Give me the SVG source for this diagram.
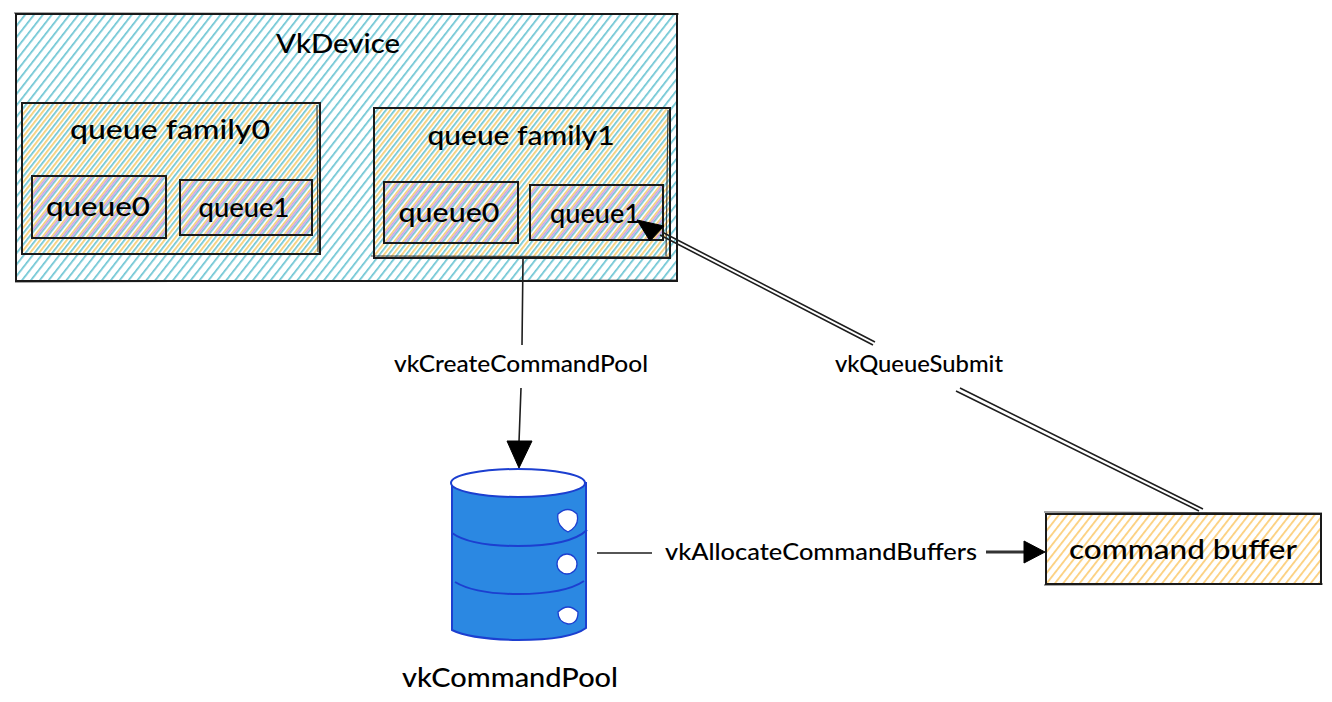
<svg xmlns="http://www.w3.org/2000/svg" width="1332" height="702" viewBox="0 0 1332 702">
<style>
text{font-family:"Lato","Open Sans",sans-serif;fill:#000;text-anchor:middle;dominant-baseline:central;font-weight:500}
.box{fill:none;stroke:#1a1a1a;stroke-width:2}
.box2{fill:none;stroke:#1a1a1a;stroke-width:1.2;opacity:.8}
.conn{fill:none;stroke:#1e1e1e;stroke-width:1.6}
.head{fill:#000;stroke:#000}
.db{stroke:#1c3fd0;stroke-width:2;fill:none}
.hole{fill:#fff;stroke:#1c3fd0;stroke-width:1.3}
</style>
<defs>
<pattern id="teal" width="7" height="7" patternUnits="userSpaceOnUse" patternTransform="rotate(38)"><rect width="7" height="7" fill="#fff"/><rect width="1.7" height="7" fill="#6cc5d3"/></pattern>
<pattern id="amber" width="7" height="7" patternUnits="userSpaceOnUse" patternTransform="rotate(38) translate(3.5 0)"><rect width="1.8" height="7" fill="#f5cf7a"/></pattern>
<pattern id="purple" width="7" height="7" patternUnits="userSpaceOnUse" patternTransform="rotate(38) translate(5.3 0)"><rect width="1.7" height="7" fill="#c9a3e6"/></pattern>
<pattern id="orange" width="6.5" height="6.5" patternUnits="userSpaceOnUse" patternTransform="rotate(38)"><rect width="6.5" height="6.5" fill="#fff"/><rect width="1.9" height="6.5" fill="#fcd284"/></pattern>
</defs>
<g id="vkdevice">
<rect x="16" y="14" width="661" height="267" fill="url(#teal)"/>
<rect class="box" x="16" y="14" width="661" height="267"/>
<path class="box2" d="M14 13L679 14M15 282L676 280"/>
<text x="338" y="42" font-size="27" textLength="124" lengthAdjust="spacingAndGlyphs">VkDevice</text>
</g>
<g id="queue-family0">
<rect x="22" y="103" width="298" height="151" fill="url(#amber)"/>
<rect class="box" x="22" y="103" width="298" height="151"/>
<path class="box2" d="M317 105L318 252"/>
<text x="170" y="129" font-size="26" textLength="200" lengthAdjust="spacingAndGlyphs">queue family0</text>
</g>
<g id="family0-queue0">
<rect x="32" y="176" width="134" height="62" fill="url(#purple)"/>
<rect class="box" x="32" y="176" width="134" height="62"/>
<text x="98" y="206" font-size="26" textLength="104" lengthAdjust="spacingAndGlyphs">queue0</text>
</g>
<g id="family0-queue1">
<rect x="180" y="180" width="132" height="55" fill="url(#purple)"/>
<rect class="box" x="180" y="180" width="132" height="55"/>
<text x="244" y="207" font-size="26" textLength="91" lengthAdjust="spacingAndGlyphs">queue1</text>
</g>
<g id="queue-family1">
<rect x="374" y="108" width="296" height="150" fill="url(#amber)"/>
<rect class="box" x="374" y="108" width="296" height="150"/>
<path class="box2" d="M371 256L670 257M668 110L666 256"/>
<text x="521" y="135" font-size="26" textLength="187" lengthAdjust="spacingAndGlyphs">queue family1</text>
</g>
<g id="family1-queue0">
<rect x="384" y="182" width="134" height="61" fill="url(#purple)"/>
<rect class="box" x="384" y="182" width="134" height="61"/>
<text x="449" y="212" font-size="26" textLength="101" lengthAdjust="spacingAndGlyphs">queue0</text>
</g>
<g id="family1-queue1">
<rect x="530" y="185" width="133" height="55" fill="url(#purple)"/>
<rect class="box" x="530" y="185" width="133" height="55"/>
<text x="595" y="213" font-size="26" textLength="90" lengthAdjust="spacingAndGlyphs">queue1</text>
</g>
<g id="vkcommandpool">
<path d="M452 482L452 630Q470 639 518 640Q570 640 586 628L586 482Z" fill="#2b88e2"/>
<path class="db" d="M452 482L452 630Q470 639 518 640Q570 640 586 628L586 482"/>
<ellipse cx="518" cy="483" rx="67" ry="14" fill="#fff" stroke="#1c3fd0" stroke-width="2"/>
<path class="db" d="M452 533Q470 546 518 546Q570 546 587 530M455 582Q475 594 518 594Q565 594 584 581"/>
<path class="hole" d="M558 514Q568 505 577 514Q580 526 568 532Q556 526 558 514Z"/>
<circle class="hole" cx="567" cy="564" r="10"/>
<path class="hole" d="M558 612Q568 602 578 612Q578 624 568 624Q558 622 558 612Z"/>
<text x="510" y="676" font-size="27" textLength="216" lengthAdjust="spacingAndGlyphs">vkCommandPool</text>
</g>
<g id="commandbuffer">
<rect x="1046" y="514" width="275" height="70" fill="url(#orange)"/>
<rect class="box" x="1046" y="514" width="275" height="70"/>
<path class="box2" d="M1044 512L1322 513M1044 585L1323 584"/>
<text x="1183" y="548" font-size="27" textLength="228" lengthAdjust="spacingAndGlyphs">command buffer</text>
</g>
<g id="connectors">
<path class="conn" d="M523 259L522 345M521 388L519 442"/>
<path class="head" d="M507 441L532 441L519 468Z"/>
<path class="conn" d="M662 232L875 342M660 235L873 345M960 388L1203 509M956 391L1199 511"/>
<path class="head" d="M637 220L664 226L650 241Z"/>
<path class="conn" d="M597 553L652 553"/>
<path d="M986 552L1028 552" fill="none" stroke="#333" stroke-width="3"/>
<path class="head" d="M1024 541L1045 552L1024 563Z"/>
</g>
<g id="labels">
<text x="521" y="363" font-size="23" textLength="254" lengthAdjust="spacingAndGlyphs">vkCreateCommandPool</text>
<text x="919" y="363" font-size="23" textLength="168" lengthAdjust="spacingAndGlyphs">vkQueueSubmit</text>
<text x="821" y="551" font-size="23" textLength="312" lengthAdjust="spacingAndGlyphs">vkAllocateCommandBuffers</text>
</g>
</svg>
